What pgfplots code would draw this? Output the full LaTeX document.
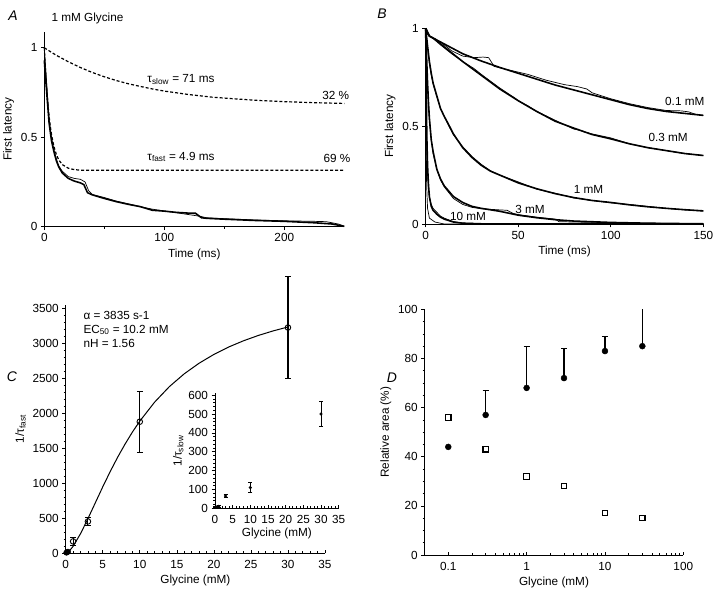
\documentclass[border=0pt]{standalone}
\usepackage{fontspec}
\setmainfont{Liberation Sans}
\usepackage{pgfplots}
\pgfplotsset{compat=1.18}
\newcommand\fs{\fontsize{11.8}{13.5}\selectfont}
\newcommand\fl{\fontsize{14}{16}\selectfont\itshape}
\pgfplotsset{
  panel/.style={
    scale only axis, anchor=south west,
    axis x line*=bottom, axis y line*=left,
    axis line style={line width=0.8pt, black},
    tick align=outside,
    every tick/.append style={black, line width=0.6pt},
    major tick length=3.5pt, minor tick length=2pt,
    tick label style={font=\fs},
    label style={font=\fs},
    /pgf/number format/assume math mode=true,
    /pgf/number format/1000 sep={},
    clip=false,
  },
  xin/.style={
    major x tick style={yshift=3.5pt},
    minor x tick style={yshift=2pt},
  },
  thick/.style={black, line width=1.6pt},
  thin/.style={black, line width=0.7pt},
}
\begin{document}
\begin{tikzpicture}
\path[use as bounding box] (0,0) rectangle (720bp,595bp);
\node[font=\fl] at (13bp,579bp) {A};
\node[font=\fs, anchor=west] at (48bp,577bp) {1 mM Glycine};
\node[font=\fl] at (382bp,581bp) {B};
\node[font=\fl] at (12bp,218bp) {C};
\node[font=\fl] at (392bp,217bp) {D};

% ---------------- Panel A
\begin{axis}[panel, at={(44.3bp,368.3bp)}, width=300bp, height=195bp,
  xmin=0, xmax=250, ymin=0, ymax=1.09,
  xtick={0,100,200}, minor xtick={50,150}, ytick={0,0.5,1},
  xlabel={Time (ms)}, ylabel={First latency}]
\addplot[thick] coordinates {(0,0.93) (2,0.75) (4,0.58) (6,0.48) (8,0.42) (10,0.37) (12,0.335) (15,0.30) (20,0.27) (25,0.255) (30,0.245) (33,0.235) (36,0.19) (40,0.178) (45,0.168) (50,0.158) (60,0.14) (70,0.125) (80,0.112) (90,0.092) (100,0.087) (110,0.08) (120,0.076) (126,0.075) (131,0.05) (135,0.047) (150,0.042) (175,0.035) (200,0.03) (225,0.022) (240,0.015) (250,0.002)};
\addplot[thin] coordinates {(0,1.0) (2,0.8) (4,0.6) (6,0.5) (8,0.43) (10,0.38) (12,0.34) (15,0.31) (20,0.28) (25,0.27) (30,0.265) (34,0.25) (37,0.2) (40,0.18) (50,0.163) (60,0.143) (70,0.128) (80,0.112) (90,0.098) (100,0.088) (110,0.078) (120,0.068) (130,0.058) (135,0.05) (150,0.045) (175,0.038) (200,0.033) (225,0.03) (235,0.028) (245,0.015) (250,0.003)};
\addplot[black, line width=1.2pt, dash pattern=on 3pt off 2pt] coordinates {(0,1.0) (10,0.958) (20,0.922) (30,0.890) (40,0.862) (50,0.838) (60,0.817) (70,0.799) (80,0.784) (90,0.770) (100,0.758) (120,0.739) (140,0.724) (160,0.714) (180,0.705) (200,0.699) (225,0.693) (250,0.689)};
\addplot[black, line width=1.2pt, dash pattern=on 3pt off 2pt] coordinates {(0,1.0) (1,0.873) (2,0.770) (3,0.686) (4,0.618) (5,0.562) (6,0.516) (8,0.449) (10,0.404) (12,0.374) (15,0.347) (20,0.327) (25,0.319) (30,0.316) (40,0.315) (250,0.315)};
\node[font=\fs, anchor=west] at (axis cs:83,0.825) {τ\textsubscript{slow} = 71 ms};
\node[font=\fs, anchor=east] at (axis cs:257,0.735) {32 \%};
\node[font=\fs, anchor=west] at (axis cs:83,0.39) {τ\textsubscript{fast} = 4.9 ms};
\node[font=\fs, anchor=east] at (axis cs:258,0.38) {69 \%};
\end{axis}

% ---------------- Panel B
\begin{axis}[panel, at={(425.7bp,371bp)}, width=277.6bp, height=195.7bp,
  xmin=0, xmax=150, ymin=0, ymax=1,
  xtick={0,50,100,150}, ytick={0,0.5,1},
  xlabel={Time (ms)}, ylabel={First latency}]
% 0.1 mM
\addplot[thick] coordinates {(0,1.0) (2,0.96) (5,0.945) (10,0.92) (20,0.87) (30,0.833) (40,0.80) (50,0.77) (60,0.74) (70,0.71) (80,0.685) (90,0.66) (100,0.635) (110,0.61) (120,0.59) (130,0.575) (140,0.565) (150,0.555)};
\addplot[thin] coordinates {(0,1) (1,0.97) (3,0.955) (8,0.93) (14,0.885) (20,0.858) (26,0.85) (31,0.853) (34,0.85) (37,0.805) (45,0.787) (55,0.765) (65,0.735) (75,0.712) (82,0.702) (87,0.69) (90,0.67) (100,0.64) (110,0.615) (120,0.595) (130,0.58) (138,0.578) (142,0.573) (146,0.56) (150,0.555)};
% 0.3 mM
\addplot[thick] coordinates {(0,1) (2,0.96) (5,0.945) (10,0.905) (20,0.83) (30,0.76) (40,0.69) (50,0.63) (60,0.575) (70,0.525) (80,0.49) (90,0.457) (100,0.435) (110,0.41) (120,0.39) (130,0.375) (140,0.36) (150,0.35)};
\addplot[thin] coordinates {(0,1) (1,0.97) (3,0.955) (8,0.915) (14,0.87) (20,0.83) (26,0.795) (28,0.78) (30,0.765) (40,0.695) (48,0.645) (50,0.63) (55,0.605) (60,0.575) (70,0.53) (80,0.485) (83,0.48) (86,0.47) (90,0.46) (100,0.44) (110,0.41) (120,0.39) (130,0.375) (140,0.36) (150,0.35)};
% 1 mM
\addplot[thick] coordinates {(0,1) (1,0.91) (2,0.83) (3,0.77) (4,0.72) (6,0.655) (8,0.59) (10,0.55) (12,0.515) (15,0.46) (20,0.39) (25,0.34) (30,0.30) (35,0.27) (40,0.25) (50,0.21) (60,0.18) (70,0.155) (80,0.135) (90,0.12) (100,0.11) (110,0.098) (120,0.088) (130,0.08) (140,0.073) (150,0.067)};
\addplot[thin] coordinates {(0,1) (1,0.9) (2,0.82) (3,0.76) (4,0.715) (6,0.65) (8,0.59) (10,0.55) (12,0.51) (15,0.455) (20,0.395) (25,0.345) (30,0.305) (35,0.272) (40,0.25) (50,0.215) (60,0.178) (70,0.157) (80,0.133) (90,0.12) (100,0.108) (110,0.1) (120,0.09) (130,0.08) (140,0.072) (150,0.066)};
% 3 mM
\addplot[thick] coordinates {(0,1) (0.5,0.85) (1,0.72) (1.5,0.62) (2,0.54) (3,0.43) (4,0.37) (6,0.28) (8,0.23) (10,0.195) (15,0.14) (20,0.11) (25,0.09) (30,0.08) (40,0.065) (50,0.045) (60,0.032) (70,0.022) (80,0.015) (100,0.008) (120,0.004) (150,0.001)};
\addplot[thin] coordinates {(0,1) (0.5,0.82) (1,0.7) (1.5,0.6) (2,0.53) (3,0.43) (4,0.36) (6,0.28) (8,0.225) (10,0.19) (15,0.13) (20,0.1) (25,0.085) (30,0.078) (40,0.072) (44,0.07) (47,0.055) (50,0.048) (60,0.035) (70,0.025) (72,0.012) (80,0.01) (100,0.007) (120,0.004) (150,0.001)};
% 10 mM
\addplot[thick] coordinates {(0,1) (0.3,0.7) (0.6,0.45) (1,0.3) (1.5,0.2) (2,0.14) (3,0.09) (4,0.07) (6,0.05) (8,0.035) (10,0.025) (15,0.01) (20,0.004) (30,0.001) (150,0)};
\addplot[thin] coordinates {(0,1) (0.3,0.6) (0.6,0.38) (1,0.25) (1.5,0.18) (2,0.13) (3,0.1) (4,0.08) (6,0.06) (8,0.04) (10,0.03) (15,0.012) (20,0.005) (30,0.002) (150,0)};
\addplot[thin] coordinates {(0,1) (0.2,0.5) (0.5,0.2) (1,0.08) (2,0.03) (5,0.01) (10,0.0) (150,0)};
\node[font=\fs] at (axis cs:140,0.625) {0.1 mM};
\node[font=\fs] at (axis cs:131,0.44) {0.3 mM};
\node[font=\fs] at (axis cs:88,0.174) {1 mM};
\node[font=\fs] at (axis cs:56.4,0.075) {3 mM};
\node[font=\fs] at (axis cs:22.9,0.037) {10 mM};
\end{axis}

% ---------------- Panel C
\begin{axis}[panel, xin, at={(65.7bp,41.7bp)}, width=259.3bp, height=248.5bp,
  xmin=0, xmax=35, ymin=0, ymax=3550,
  xtick={0,5,...,35}, minor x tick num=4,
  ytick={0,500,...,3500}, minor y tick num=4,
  xlabel={Glycine (mM)}, ylabel={1/τ\textsubscript{fast}}]
\addplot[black, line width=1pt] coordinates {(0.1,0.3) (0.5,34) (1,100) (2,280) (3,495) (4,722) (5,949) (6,1166) (7,1370) (8,1558) (9,1731) (10,1888) (12,2159) (14,2382) (16,2564) (18,2715) (20,2841) (22,2947) (24,3036) (26,3112) (28,3177) (30,3233)};
\addplot[black, only marks, mark=*, mark size=2.8pt, mark options={fill=black},
  error bars/.cd, y dir=both, y explicit,
  error bar style={line width=1pt}, error mark options={rotate=90, mark size=2.5pt, line width=1pt}]
  coordinates {(0.1,10) +- (0,12) (0.3,22) +- (0,15)};
\addplot[black, only marks, mark=o, mark size=2.8pt, mark options={line width=0.9pt, fill=white},
  error bars/.cd, y dir=both, y explicit,
  error bar style={line width=1.1pt}, error mark options={rotate=90, mark size=3pt, line width=1.1pt}]
  coordinates {(1,170) +- (0,55) (3,455) +- (0,55) (10,1880) +- (0,435) (30,3225) +- (0,730)};
\node[font=\fs, anchor=west] at (axis cs:1.93,3404) {α = 3835 s-1};
\node[font=\fs, anchor=west] at (axis cs:1.93,3190) {EC\textsubscript{50} = 10.2 mM};
\node[font=\fs, anchor=west] at (axis cs:1.93,3004) {nH = 1.56};
\end{axis}

% ---------------- Inset
\begin{axis}[panel, xin, at={(215bp,86.7bp)}, width=123.7bp, height=115bp,
  xmin=0, xmax=35, ymin=0, ymax=610,
  xtick={0,5,...,35}, minor x tick num=4,
  ytick={0,100,...,600}, minor y tick num=4,
  xlabel={Glycine (mM)}, ylabel={1/τ\textsubscript{slow}},
  xlabel style={yshift=2pt}, ylabel style={yshift=-2pt}]
\addplot[black, only marks, mark=*, mark size=1.4pt,
  error bars/.cd, y dir=both, y explicit,
  error bar style={line width=1pt}, error mark options={rotate=90, mark size=2pt, line width=1pt}]
  coordinates {(0.1,5) +- (0,3) (0.3,7) +- (0,4) (1,10) +- (0,5) (3,65) +- (0,10) (10,110) +- (0,27) (30,500) +- (0,68)};
\end{axis}

% ---------------- Panel D
\begin{axis}[panel, at={(424.7bp,40bp)}, width=258.6bp, height=245.7bp,
  xmode=log, log ticks with fixed point, xmin=0.05, xmax=100, ymin=0, ymax=100,
  xtick={0.1,1,10,100}, xticklabels={0.1,1,10,100},
  ytick={0,20,...,100}, minor y tick num=3, clip=true,
  major x tick style={yshift=3.5pt}, minor x tick style={yshift=2pt},
  xlabel={Glycine (mM)}, ylabel={Relative area (\%)}]
\addplot[black, only marks, mark=*, mark size=3pt]
  coordinates {(0.1,44)};
\addplot[black, only marks, mark=*, mark size=3pt,
  error bars/.cd, y dir=plus, y explicit,
  error bar style={line width=1.1pt}, error mark options={rotate=90, mark size=3pt, line width=1.1pt}]
  coordinates {(0.3,57) +- (0,10) (1,68) +- (0,17) (3,72) +- (0,12) (10,83) +- (0,6) (30,85) +- (0,20)};
\addplot[black, only marks, mark=square, mark size=2.7pt, mark options={line width=1.1pt}]
  coordinates {(0.1,56) (0.3,43) (1,32) (3,28) (10,17) (30,15)};
\end{axis}
\end{tikzpicture}
\end{document}
